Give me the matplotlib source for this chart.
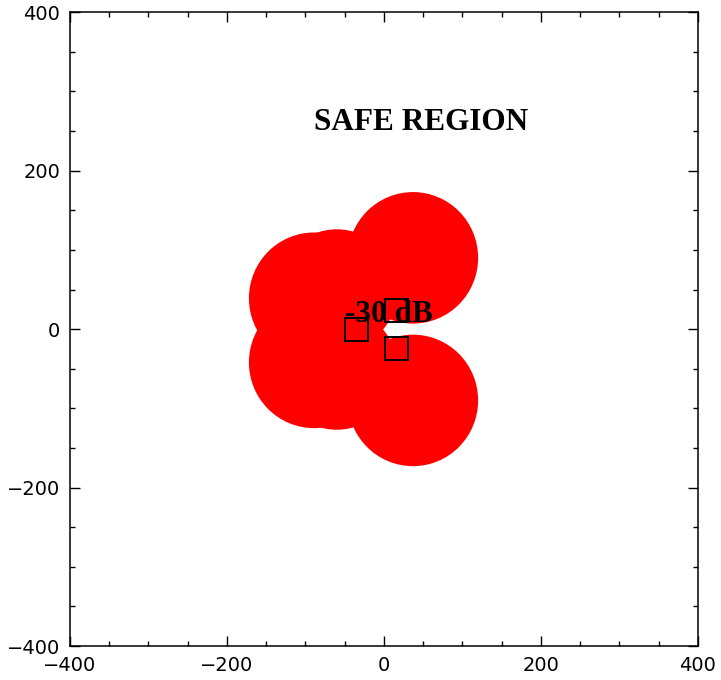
import numpy as np
import matplotlib
matplotlib.use("Agg")
import matplotlib.pyplot as plt
from matplotlib.patches import Circle, Rectangle
from matplotlib.ticker import MultipleLocator

# circles whose union forms the -30 dB zone (data units)
zone_x = [37, 37, -89, -89, -60, -60]
zone_y = [90, -90, 39, -42, 49, -50]
zone_r = [83, 83, 83, 83, 77, 77]

# source positions (square markers)
src_x = [-35, 16, 16]
src_y = [0, 23, -25]
src_size = 29

fig = plt.figure(figsize=(7.21, 6.80), dpi=100)
ax = fig.add_axes([0.097, 0.05, 0.871, 0.932])

for x, y, r in zip(zone_x, zone_y, zone_r):
    ax.add_patch(Circle((x, y), r, facecolor='#ff0000', edgecolor='none'))

for x, y in zip(src_x, src_y):
    ax.add_patch(Rectangle((x - src_size / 2, y - src_size / 2), src_size, src_size,
                           fill=False, edgecolor='black', lw=1.4))

ax.text(47, 251, "SAFE REGION", family='Liberation Serif', weight='bold',
        fontsize=22.5, ha='center', va='baseline')
ax.text(6, 9, "-30 dB", family='Liberation Serif', weight='bold',
        fontsize=22.5, ha='center', va='baseline')

ax.set_xlim(-400, 400)
ax.set_ylim(-400, 400)
ax.xaxis.set_major_locator(MultipleLocator(200))
ax.yaxis.set_major_locator(MultipleLocator(200))
ax.xaxis.set_minor_locator(MultipleLocator(50))
ax.yaxis.set_minor_locator(MultipleLocator(50))
ax.tick_params(which='both', direction='in', top=True, right=True, labelsize=14, pad=7)
ax.tick_params(which='major', length=7.5, width=1)
ax.tick_params(which='minor', length=3.8, width=1)
for s in ax.spines.values():
    s.set_linewidth(1.1)

fig.savefig("out.png", dpi=100)
